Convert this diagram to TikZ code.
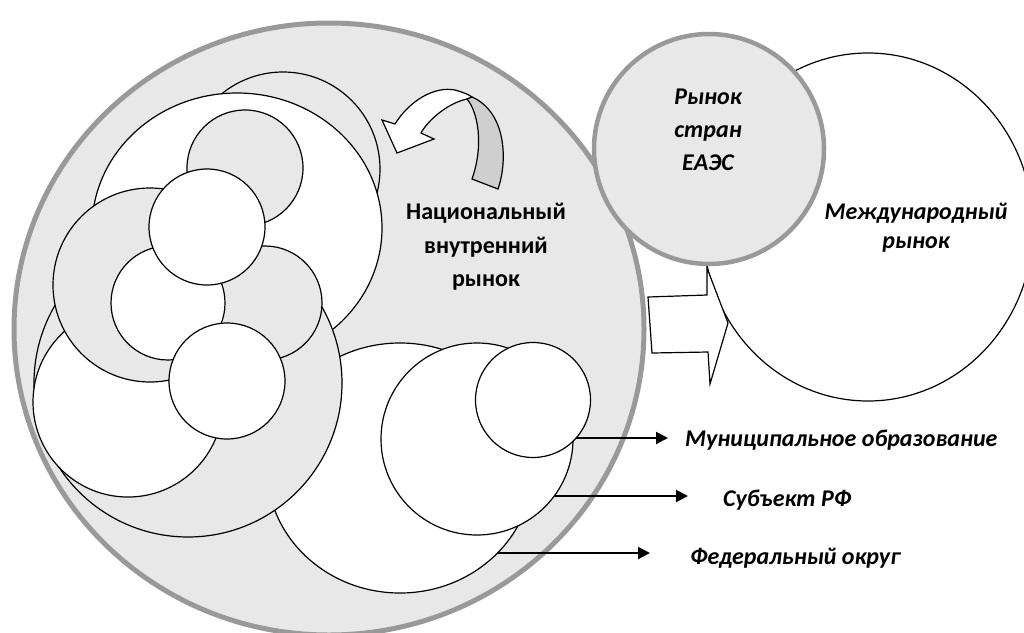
\documentclass[tikz,border=0pt]{standalone}
\usepackage{fontspec}
\setmainfont{Carlito}
\usetikzlibrary{arrows.meta}
\definecolor{fond}{HTML}{E8E8E8}
\definecolor{obod}{HTML}{999999}
\definecolor{lenta}{HTML}{CFCFCF}

\begin{document}
\begin{tikzpicture}[x=1pt, y=-1pt,
		wkrug/.style={draw=black, line width=1.2pt, fill=white},
		skrug/.style={draw=black, line width=1.2pt, fill=fond},
		obolochka/.style={draw=obod, line width=5pt, fill=fond},
		nadpis/.style={font=\fontsize{24}{33}\selectfont\bfseries\itshape, align=center, inner sep=0pt},
		strelka/.style={-{Triangle[length=12pt,width=12pt]}, line width=2pt}]
		\clip (0,0) rectangle (1024,632);
		
		\draw[wkrug] (868,227) ellipse [x radius=165pt, y radius=174pt];
		\draw[wkrug] (648,297) -- (707,295) -- (707,268) -- (728,323) -- (710,384) -- (708,352) -- (652,353) -- cycle;
		
		\draw[obolochka] (329,329) ellipse [x radius=315pt, y radius=306pt];
		
		\draw[wkrug] (400,468) ellipse [x radius=133pt, y radius=125pt];
		\draw[skrug] (283,169) circle [radius=97pt];
		\draw[wkrug] (237,228) ellipse [x radius=145pt, y radius=135pt];
		\draw[skrug] (245,168) circle [radius=58pt];
		\draw[skrug] (188,383) circle [radius=154pt];
		\draw[wkrug] (128,402) circle [radius=95pt];
		\draw[skrug] (150,285) circle [radius=97pt];
		\draw[skrug] (265,303) circle [radius=57pt];
		\draw[wkrug] (168,303) circle [radius=57pt];
		\draw[wkrug] (207,227) circle [radius=58pt];
		\draw[wkrug] (227,381) circle [radius=58pt];
		\draw[wkrug] (477,439) circle [radius=96pt];
		\draw[wkrug] (533,400) circle [radius=57.5pt];
		
		\draw[wkrug] (395,124) -- (382,120) -- (397,153) -- (434,139) -- (421,133) .. controls (428,120) and (448,103) .. (467,99) -- (472,97) .. controls (468,94) and (462,92) .. (455,90) .. controls (435,86) and (410,100) .. (395,124) -- cycle;
		\draw[skrug, fill=lenta] (467,99) .. controls (478,112) and (484,145) .. (472,179) -- (498,189) .. controls (508,160) and (506,112) .. (472,97) -- cycle;
		
		\draw[obolochka, line width=4.5pt] (709,149) circle [radius=115pt];
		
		\node[nadpis, font=\fontsize{24}{33.5}\selectfont\bfseries] (nvr) at (486,247) {Национальный\\внутренний\\рынок};
		\node[nadpis] (eaes) at (708,130) {Рынок\\стран\\ЕАЭС};
		\node[nadpis, font=\fontsize{24}{29}\selectfont\bfseries\itshape] (mr) at (916,228) {Международный\\рынок};
		
		\node[nadpis, anchor=west] (mun) at (685,440) {Муниципальное образование};
		\node[nadpis, anchor=west] (sub) at (723,500) {Субъект РФ};
		\node[nadpis, anchor=west] (fed) at (690,558) {Федеральный округ};
		
		\coordinate (munS) at (576,438);
		\coordinate (subS) at (554,496);
		\coordinate (fedS) at (497,553);
		\draw[strelka] (munS) -- ([xshift=-17pt]munS -| mun.west);
		\draw[strelka] (subS) -- ([xshift=-35pt]subS -| sub.west);
		\draw[strelka] (fedS) -- ([xshift=-40pt]fedS -| fed.west);
\end{tikzpicture}
\end{document}
